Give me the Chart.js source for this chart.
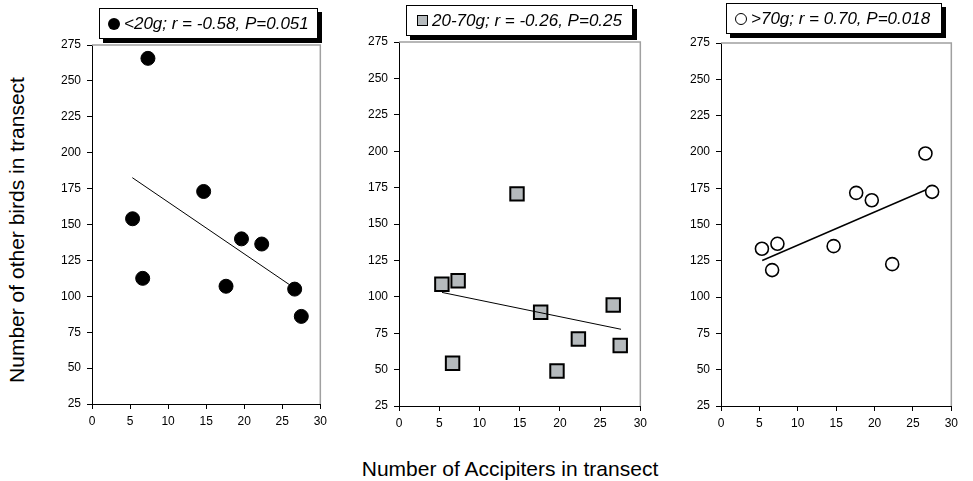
<!DOCTYPE html>
<html>
<head>
<meta charset="utf-8">
<script src="https://cdn.jsdelivr.net/npm/chart.js@4/dist/chart.umd.min.js"></script>
<style>
  html, body { margin: 0; padding: 0; background: #fff; }
  body { width: 973px; height: 481px; position: relative; overflow: hidden; font-family: "Liberation Sans", Arial, sans-serif; }
  .panel { position: absolute; top: 0; }
  .legend {
    position: absolute; box-sizing: border-box; height: 31px;
    border: 1px solid #000; background: #fff; box-shadow: 4px 4px 0 #000;
    font-style: italic; font-size: 17px; line-height: 29px; white-space: nowrap;
    display: flex; align-items: center; color: #000;
  }
  .mark { display: inline-block; box-sizing: border-box; margin-right: 4px; }
  .axis-title { position: absolute; font-size: 21px; color: #000; white-space: nowrap; }
</style>
</head>
<body>
<div class="axis-title" id="ytitle" style="left:17px; top:230px; transform: translate(-50%, -50%) rotate(-90deg);">Number of other birds in transect</div>
<div class="axis-title" style="left:510px; top:457px; transform: translateX(-50%);">Number of Accipiters in transect</div>

<div class="panel" style="left:50px"><canvas id="c1" width="282" height="481"></canvas></div>
<div class="panel" style="left:357px"><canvas id="c2" width="295" height="481"></canvas></div>
<div class="panel" style="left:679px"><canvas id="c3" width="284" height="481"></canvas></div>

<div class="legend" style="left:99px; top:8px; width:219px; padding-left:8px;">
  <span class="mark" style="width:12px;height:12px;border-radius:50%;background:#000;"></span><span id="lg1"></span>
</div>
<div class="legend" style="left:406px; top:5px; width:227px; padding-left:10px;">
  <span class="mark" style="width:11px;height:11px;background:#b5babd;border:1.5px solid #000;"></span><span id="lg2"></span>
</div>
<div class="legend" style="left:726px; top:3px; width:216px; padding-left:8px;">
  <span class="mark" style="width:12px;height:12px;border-radius:50%;background:#fff;border:1.5px solid #000;"></span><span id="lg3"></span>
</div>

<script>
// Number of Accipiters per transect (same transects in every panel)
const accipiters = [5.33, 6.66, 7.35, 14.67, 17.61, 19.64, 22.3, 26.63, 27.5];

// Number of other birds, by body mass class
const smallBirds  = [154, 112.5, 265.7, 173, 107, 140, 136.4, 105, 86];
const mediumBirds = [108.6, 54.3, 111, 170.7, 89.4, 49, 71, 94.4, 66.5];
const largeBirds  = [133.3, 118.6, 136.7, 135.1, 171.8, 166.7, 122.7, 198.9, 172.5];

// Regression lines (end points)
const trendSmallX = [5.3, 26.0],   trendSmallY = [182.6, 107.9];
const trendMediumX = [5.35, 27.6], trendMediumY = [103, 77.7];
const trendLargeX = [5.37, 27.1],  trendLargeY = [125.2, 174.8];

const xTicks = [0, 5, 10, 15, 20, 25, 30];
const yTicks = [25, 50, 75, 100, 125, 150, 175, 200, 225, 250, 275];

const legendLabels = [
    '<20g; r = -0.58, P=0.051',
    '20-70g; r = -0.26, P=0.25',
    '>70g; r = 0.70, P=0.018'
];

const FONT = '"Liberation Sans", Arial, sans-serif';

document.getElementById('lg1').textContent = legendLabels[0];
document.getElementById('lg2').textContent = legendLabels[1];
document.getElementById('lg3').textContent = legendLabels[2];

const toPoints = (xs, ys) => xs.map((x, i) => ({ x: x, y: ys[i] }));

// gray top and right frame of the plot area
const frameLines = {
    id: 'frameLines',
    beforeDatasetsDraw(chart) {
        const a = chart.chartArea, ctx = chart.ctx;
        ctx.save();
        ctx.strokeStyle = '#a0a0a0';
        ctx.lineWidth = 1.5;
        ctx.beginPath();
        ctx.moveTo(a.left, a.top);
        ctx.lineTo(a.right, a.top);
        ctx.lineTo(a.right, a.bottom);
        ctx.stroke();
        ctx.restore();
    }
};

function makePanel(canvasId, values, trendX, trendY, pointStyle, top, bottomPad, lineOnTop) {
    const ctx = document.getElementById(canvasId).getContext('2d');
    return new Chart(ctx, {
        type: 'scatter',
        data: {
            datasets: [
                Object.assign({ data: toPoints(accipiters, values), order: lineOnTop ? 1 : 0 }, pointStyle),
                {
                    data: toPoints(trendX, trendY),
                    showLine: true,
                    pointRadius: 0,
                    borderColor: '#000',
                    borderWidth: canvasId === 'c3' ? 1.4 : 1,
                    order: lineOnTop ? 0 : 1
                }
            ]
        },
        options: {
            responsive: false,
            animation: false,
            layout: { padding: { left: 0, right: 8, top: top, bottom: bottomPad } },
            plugins: { legend: { display: false }, tooltip: { enabled: false } },
            scales: {
                x: {
                    type: 'linear', min: 0, max: 30,
                    afterBuildTicks: s => { s.ticks = xTicks.map(v => ({ value: v })); },
                    afterFit: s => { s.height = 30; },
                    grid: { drawOnChartArea: false, drawTicks: true, tickLength: 5, color: '#000' },
                    border: { color: '#000', width: 1 },
                    ticks: { color: '#000', font: { family: FONT, size: 12 }, padding: 5, maxRotation: 0 }
                },
                y: {
                    type: 'linear', min: 25, max: 275,
                    afterBuildTicks: s => { s.ticks = yTicks.map(v => ({ value: v })); },
                    afterFit: s => { s.width = 42; },
                    grid: { drawOnChartArea: false, drawTicks: true, tickLength: 5, color: '#000' },
                    border: { color: '#000', width: 1 },
                    ticks: { color: '#000', font: { family: FONT, size: 12 }, padding: 6 }
                }
            }
        },
        plugins: [frameLines]
    });
}

makePanel('c1', smallBirds, trendSmallX, trendSmallY,
    { pointStyle: 'circle', pointRadius: 7, backgroundColor: '#000', borderColor: '#000', borderWidth: 1 },
    45, 47, false);

makePanel('c2', mediumBirds, trendMediumX, trendMediumY,
    { pointStyle: 'rect', pointRadius: 9.5, backgroundColor: '#b5babd', borderColor: '#000', borderWidth: 2 },
    42, 45, true);

makePanel('c3', largeBirds, trendLargeX, trendLargeY,
    { pointStyle: 'circle', pointRadius: 6.5, backgroundColor: '#fff', borderColor: '#000', borderWidth: 1.6 },
    43, 45, false);
</script>
</body>
</html>
